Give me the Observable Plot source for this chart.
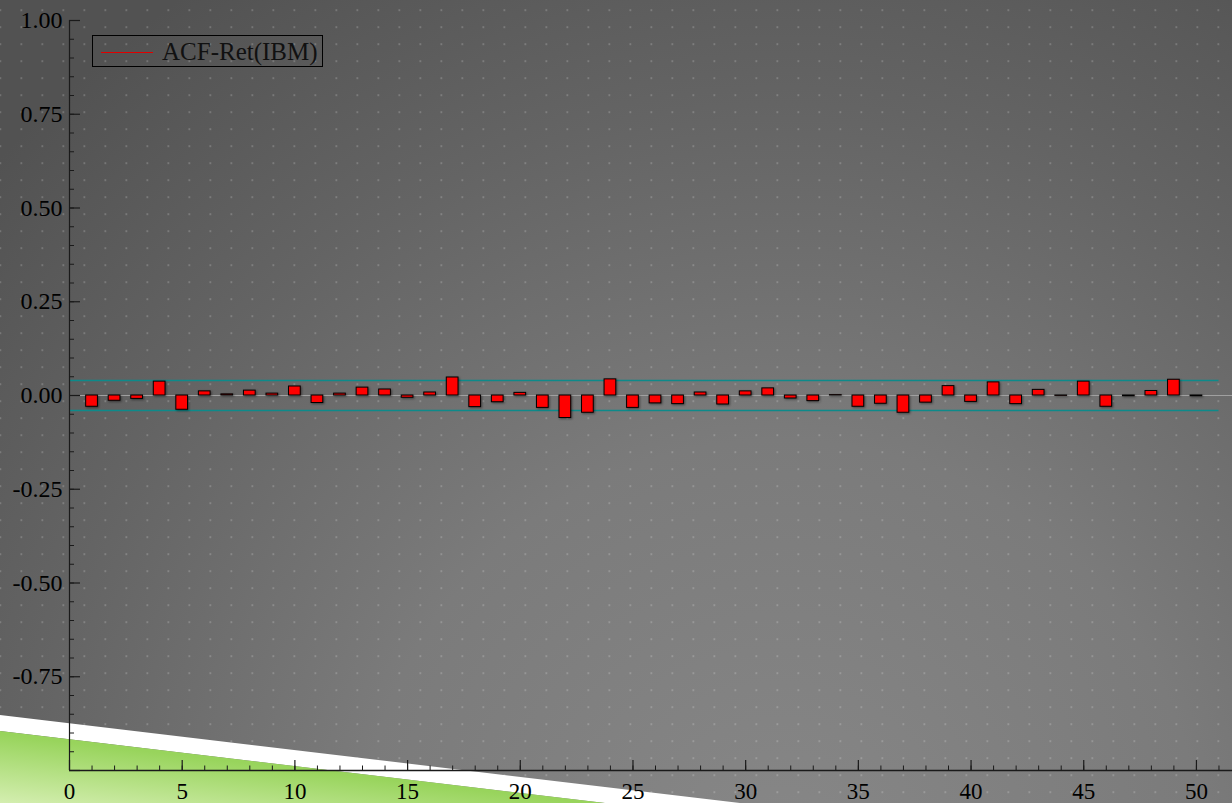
<!DOCTYPE html>
<html>
<head>
<meta charset="utf-8">
<script src="https://cdn.jsdelivr.net/npm/d3@7"></script>
<script src="https://cdn.jsdelivr.net/npm/@observablehq/plot@0.6"></script>
<style>
  html, body { margin: 0; padding: 0; }
  #wrap {
    position: relative; width: 1232px; height: 803px; overflow: hidden;
    background: radial-gradient(circle 1050px at 780px 860px, #878787 0%, #7b7b7b 40%, #646464 72%, #525252 100%);
  }
  #deco, #chart { position: absolute; left: 0; top: 0; }
  #chart svg { display: block; }
  .bars { filter: drop-shadow(1.5px 1px 1px rgba(0,0,0,0.45)); }
  .legend {
    position: absolute; left: 92px; top: 35px; width: 229px; height: 30px;
    border: 1px solid #000; font-family: 'Liberation Serif', 'DejaVu Serif', serif;
    font-size: 25px; color: #111;
  }
  .legend .swatch { position: absolute; left: 8px; top: 16px; width: 52px; border-top: 1.5px solid #e00000; }
  .legend .label { position: absolute; left: 69px; top: 0; line-height: 32px; white-space: nowrap; }
</style>
</head>
<body>
<div id="wrap">
  <svg id="deco" width="1232" height="803">
    <defs>
      <pattern id="dots" patternUnits="userSpaceOnUse" x="-0.4" y="9.2" width="21" height="17">
        <rect width="1.3" height="2" fill="rgba(255,255,255,0.26)"></rect>
      </pattern>
      <linearGradient id="grass" gradientUnits="userSpaceOnUse" x1="0" y1="803" x2="8" y2="735">
        <stop offset="0" stop-color="#d4eeb0"></stop>
        <stop offset="1" stop-color="#98d45c"></stop>
      </linearGradient>
    </defs>
    <rect width="1232" height="803" fill="url(#dots)"></rect>
    <polygon points="0,715 740,803 605,803 0,731" fill="#ffffff"></polygon>
    <polygon points="0,731 605,803 0,803" fill="url(#grass)"></polygon>
  </svg>
  <div id="chart"></div>
  <div class="legend"><div class="swatch"></div><div class="label">ACF-Ret(IBM)</div></div>
</div>
<script>
// Autocorrelation of IBM returns, lags 1..50
const lags = [1,2,3,4,5,6,7,8,9,10,11,12,13,14,15,16,17,18,19,20,21,22,23,24,25,
              26,27,28,29,30,31,32,33,34,35,36,37,38,39,40,41,42,43,44,45,46,47,48,49,50];
const acf = [-0.030,-0.014,-0.009, 0.037,-0.038, 0.011, 0.003, 0.013, 0.005, 0.024,
             -0.020, 0.005, 0.021, 0.016,-0.006, 0.008, 0.048,-0.031,-0.018, 0.007,
             -0.033,-0.060,-0.046, 0.043,-0.033,-0.021,-0.023, 0.008,-0.024, 0.011,
              0.019,-0.008,-0.015, 0.001,-0.030,-0.022,-0.046,-0.019, 0.025,-0.017,
              0.035,-0.023, 0.015,-0.001, 0.037,-0.030,-0.002, 0.012, 0.042,-0.002];
// +/- confidence band
const confBand = [0.04, -0.04];

const xTicks = [0,5,10,15,20,25,30,35,40,45,50];
const xMinor = d3.range(0, 52, 1);
const yTicks = [1, 0.75, 0.5, 0.25, 0, -0.25, -0.5, -0.75];
const yTickLabels = ["1.00","0.75","0.50","0.25","0.00","-0.25","-0.50","-0.75"];
const yMajor = [1, 0.75, 0.5, 0.25, 0, -0.25, -0.5, -0.75, -1];
const yMinor = d3.range(-1, 1.0001, 0.05);

const data = lags.map((lag, i) => ({lag, acf: acf[i]}));

const W = 1232, H = 803, mL = 69, mR = 0, mT = 20, mB = 33;
const xMax = 51.6;
const pxX = (W - mL - mR) / xMax;   // pixels per lag
const pxY = (H - mT - mB) / 2;      // pixels per unit of correlation
const halfBar = 0.26;
const axisColor = "#1a1a1a";

const chart = Plot.plot({
  width: W, height: H,
  marginLeft: mL, marginRight: mR, marginTop: mT, marginBottom: mB,
  x: {domain: [0, xMax]},
  y: {domain: [-1, 1]},
  style: {background: "transparent", fontFamily: "'Liberation Serif', 'DejaVu Serif', serif", fontSize: "23px", color: "#000", overflow: "visible"},
  marks: [
    Plot.ruleY([0], {stroke: "#a0a0a0", strokeWidth: 1}),
    Plot.ruleY(confBand, {x1: 0, x2: 51, stroke: "#0d8a8a", strokeWidth: 1.3}),
    Plot.rect(data, {
      x1: d => d.lag - halfBar, x2: d => d.lag + halfBar,
      y1: 0, y2: "acf",
      fill: "#ff0000", stroke: "#000", strokeWidth: 1, className: "bars"
    }),
    // axis lines
    Plot.ruleX([0], {y1: -1, y2: 1, stroke: axisColor, strokeWidth: 1.2}),
    Plot.ruleY([-1], {x1: 0, x2: xMax, stroke: axisColor, strokeWidth: 1.6}),
    // inward ticks
    Plot.ruleY(yMinor, {x1: 0, x2: 5 / pxX, stroke: axisColor, strokeWidth: 1}),
    Plot.ruleY(yMajor, {x1: 0, x2: 11 / pxX, stroke: axisColor, strokeWidth: 1.2}),
    Plot.ruleX(xMinor, {y1: -1, y2: -1 + 4.5 / pxY, stroke: axisColor, strokeWidth: 1}),
    Plot.ruleX(xTicks, {y1: -1, y2: -1 + 10 / pxY, stroke: axisColor, strokeWidth: 1.2}),
    // tick labels
    Plot.axisY({ticks: yTicks, tickSize: 0, tickPadding: 7, label: null, fontSize: 24,
                tickFormat: d => yTickLabels[yTicks.indexOf(d)]}),
    Plot.axisX({ticks: xTicks, tickSize: 0, tickPadding: 12, label: null,
                tickFormat: d => String(d)})
  ]
});
document.getElementById("chart").appendChild(chart);
</script>
</body>
</html>
